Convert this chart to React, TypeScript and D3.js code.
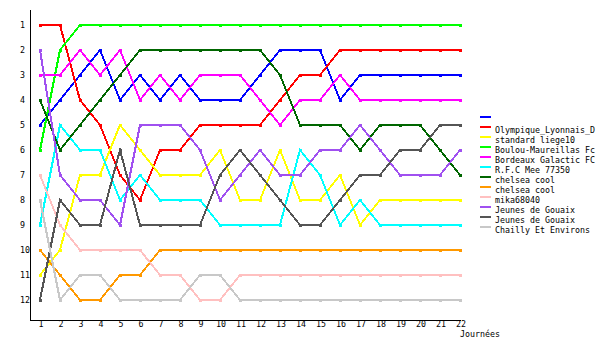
import React from "react";
import * as d3 from "d3";

const rounds: number[] = d3.range(1, 23);
const rankTicks: number[] = d3.range(1, 13);

const blueRanks = [5, 4, 3, 2, 4, 3, 4, 3, 4, 4, 4, 3, 2, 2, 2, 4, 3, 3, 3, 3, 3, 3];
const lyonRanks = [1, 1, 4, 5, 7, 8, 6, 6, 5, 5, 5, 5, 4, 3, 3, 2, 2, 2, 2, 2, 2, 2];
const liegeRanks = [11, 10, 7, 7, 5, 6, 7, 7, 7, 6, 8, 8, 6, 8, 8, 7, 9, 8, 8, 8, 8, 8];
const boulouRanks = [6, 2, 1, 1, 1, 1, 1, 1, 1, 1, 1, 1, 1, 1, 1, 1, 1, 1, 1, 1, 1, 1];
const bordeauxRanks = [3, 3, 2, 3, 2, 4, 3, 4, 3, 3, 3, 4, 5, 4, 4, 3, 4, 4, 4, 4, 4, 4];
const rfcRanks = [9, 5, 6, 6, 8, 7, 8, 8, 8, 9, 9, 9, 9, 6, 7, 9, 8, 9, 9, 9, 9, 9];
const chelseaARanks = [4, 6, 5, 4, 3, 2, 2, 2, 2, 2, 2, 2, 3, 5, 5, 5, 6, 5, 5, 5, 6, 7];
const chelseaBRanks = [10, 11, 12, 12, 11, 11, 10, 10, 10, 10, 10, 10, 10, 10, 10, 10, 10, 10, 10, 10, 10, 10];
const mikaRanks = [7, 9, 10, 10, 10, 10, 11, 11, 12, 12, 11, 11, 11, 11, 11, 11, 11, 11, 11, 11, 11, 11];
const gouaixARanks = [2, 7, 8, 8, 9, 5, 5, 5, 6, 8, 7, 6, 7, 7, 6, 6, 5, 6, 7, 7, 7, 6];
const gouaixBRanks = [12, 8, 9, 9, 6, 9, 9, 9, 9, 7, 6, 7, 8, 9, 9, 8, 7, 7, 6, 6, 5, 5];
const chaillyRanks = [8, 12, 11, 11, 12, 12, 12, 12, 11, 11, 12, 12, 12, 12, 12, 12, 12, 12, 12, 12, 12, 12];

const teamNames = [
  "",
  "Olympique_Lyonnais_D",
  "standard liege10",
  "Boulou-Maureillas Fc",
  "Bordeaux Galactic FC",
  "R.F.C Mee 77350",
  "chelsea cool",
  "chelsea cool",
  "mika68040",
  "Jeunes de Gouaix",
  "Jeunes de Gouaix",
  "Chailly Et Environs",
];
const teamColors = [
  "#0000ff",
  "#ff0000",
  "#ffff00",
  "#00ff00",
  "#ff00ff",
  "#00ffff",
  "#006600",
  "#ff9900",
  "#ffc0c0",
  "#a050f0",
  "#555555",
  "#c8c8c8",
];
const teamRanks = [
  blueRanks,
  lyonRanks,
  liegeRanks,
  boulouRanks,
  bordeauxRanks,
  rfcRanks,
  chelseaARanks,
  chelseaBRanks,
  mikaRanks,
  gouaixARanks,
  gouaixBRanks,
  chaillyRanks,
];

const xAxisLabel = "Journées";
const FONT = "'DejaVu Sans Mono', monospace";

export default function App() {
  const W = 600;
  const H = 350;
  const x = d3.scaleLinear().domain([1, 22]).range([40, 460]);
  const y = d3.scaleLinear().domain([1, 12]).range([25, 300]);
  const line = d3
    .line<number>()
    .x((_, i) => x(rounds[i]))
    .y((d) => y(d));

  return (
    <svg
      width={W}
      height={H}
      style={{ position: "absolute", left: 0, top: 0, background: "#fff" }}
      fontFamily={FONT}
      fontSize={8.3}
    >
      <rect x={0} y={0} width={W} height={H} fill="#fff" />
      {/* axes */}
      <line x1={30.5} y1={10} x2={30.5} y2={320.5} stroke="#000" strokeWidth={1} />
      <line x1={30} y1={320.5} x2={461} y2={320.5} stroke="#000" strokeWidth={1} />
      {rankTicks.map((r) => (
        <text key={"y" + r} x={20} y={y(r) + 3.3} fill="#000">
          {r}
        </text>
      ))}
      {rounds.map((r) => (
        <text key={"x" + r} x={x(r) + 1} y={327} textAnchor="middle" fill="#000">
          {r}
        </text>
      ))}
      <text x={460} y={337} fill="#000">
        {xAxisLabel}
      </text>
      {/* series */}
      {teamRanks.map((ranks, k) => (
        <g key={"s" + k}>
          <path
            d={line(ranks) || ""}
            fill="none"
            stroke={teamColors[k]}
            strokeWidth={2}
            shapeRendering="crispEdges"
          />
          {ranks.map((v, i) => (
            <rect
              key={i}
              x={x(rounds[i]) - 1}
              y={y(v) - 1}
              width={3}
              height={3}
              fill={teamColors[k]}
              shapeRendering="crispEdges"
            />
          ))}
        </g>
      ))}
      {/* legend */}
      {teamNames.map((name, k) => (
        <g key={"l" + k}>
          <rect x={480} y={116 + k * 10} width={11} height={2} fill={teamColors[k]} />
          <text x={495} y={123 + k * 10} fill="#000">
            {name}
          </text>
        </g>
      ))}
    </svg>
  );
}
